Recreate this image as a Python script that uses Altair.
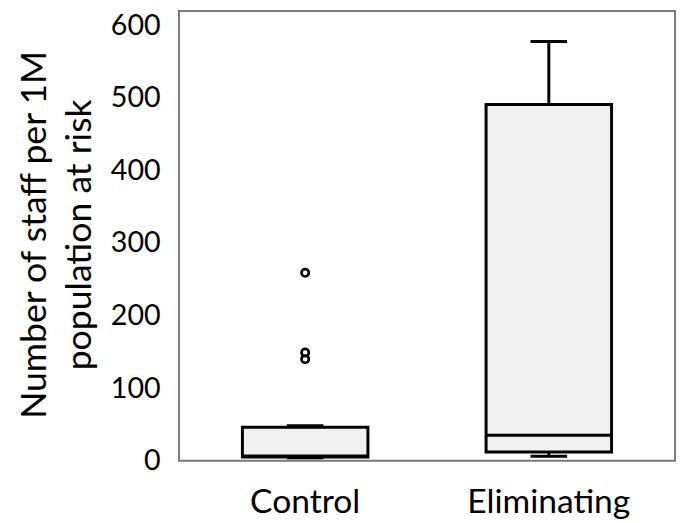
import altair as alt
import pandas as pd

categories = ["Control", "Eliminating"]
whisker_low = [4, 6]
q1 = [5, 12]
median = [6.5, 35]
q3 = [46, 491]
whisker_high = [48, 578]

outlier_group = ["Control", "Control", "Control"]
outlier_value = [259, 149, 140]

box_df = pd.DataFrame({
    "group": categories,
    "lo": whisker_low,
    "q1": q1,
    "med": median,
    "q3": q3,
    "hi": whisker_high,
})
out_df = pd.DataFrame({"group": outlier_group, "value": outlier_value})

FONT = "Lato"
x_enc = alt.X(
    "group:N",
    sort=categories,
    scale=alt.Scale(domain=categories, paddingInner=0, paddingOuter=0.018),
    axis=alt.Axis(
        title=None, labelAngle=0, ticks=False, tickSize=0, domain=False,
        labelFont=FONT, labelFontSize=34, labelColor="black",
        labelBaseline="alphabetic", labelPadding=52,
    ),
)
y_scale = alt.Scale(domain=[0, 620], nice=False, zero=True)
y_axis = alt.Axis(
    title=["Number of staff per 1M", "population at risk"],
    values=[0, 100, 200, 300, 400, 500, 600],
    grid=False, ticks=False, tickSize=0, domain=False,
    labelFont=FONT, labelFontSize=29, labelColor="black", labelPadding=19,
    titleFont=FONT, titleFontSize=36, titleFontWeight="normal", titleColor="black",
    titleLineHeight=46, titleAngle=270, titleAlign="center",
    titleBaseline="alphabetic", titleX=-135, titleY=226,
)

base = alt.Chart(box_df)

whisk = base.mark_rule(color="black", strokeWidth=3).encode(
    x=x_enc,
    y=alt.Y("lo:Q", scale=y_scale, axis=y_axis),
    y2="hi:Q",
)
box = base.mark_bar(size=127, fill="#f0f0f0", stroke="black", strokeWidth=3, opacity=1).encode(
    x=x_enc,
    y=alt.Y("q1:Q", scale=y_scale),
    y2="q3:Q",
)
med = base.mark_tick(size=127, thickness=3, color="black", opacity=1).encode(
    x=x_enc, y=alt.Y("med:Q", scale=y_scale)
)
cap_lo = base.mark_tick(size=37, thickness=3, color="black", opacity=1).encode(
    x=x_enc, y=alt.Y("lo:Q", scale=y_scale)
)
cap_hi = base.mark_tick(size=37, thickness=3, color="black", opacity=1).encode(
    x=x_enc, y=alt.Y("hi:Q", scale=y_scale)
)
outs = alt.Chart(out_df).mark_point(
    shape="circle", filled=False, color="black", strokeWidth=2.7, size=55, opacity=1
).encode(x=x_enc, y=alt.Y("value:Q", scale=y_scale))

chart = (
    alt.layer(whisk, box, med, cap_lo, cap_hi, outs)
    .properties(
        width=502, height=455,
        autosize=alt.AutoSizeParams(type="none"),
        padding={"left": 173, "top": 0, "right": 2, "bottom": 60},
    )
    .configure(background="white", view=alt.ViewConfig(stroke="#7a7a7a", strokeWidth=2))
)

chart.save("out.html", embed_options={"renderer": "svg", "actions": False})
